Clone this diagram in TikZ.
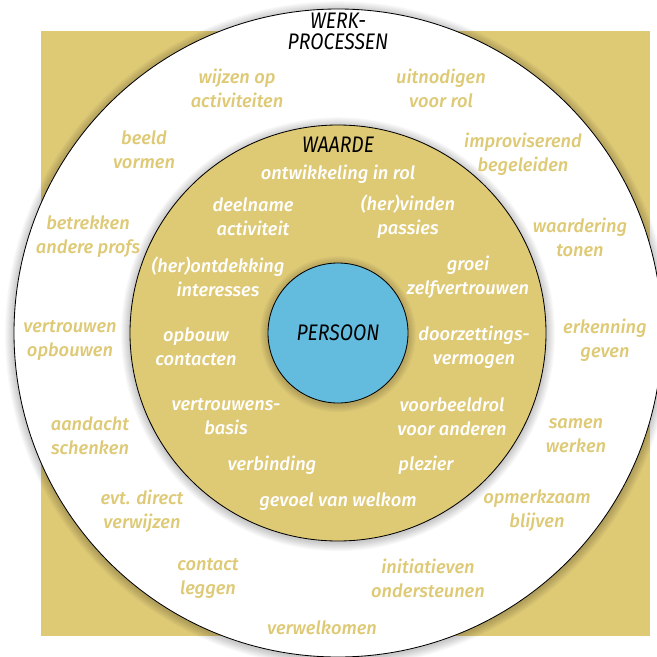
\documentclass[tikz,border=0pt]{standalone}
\usepackage{fontspec}
\setmainfont{Fira Sans}
\newfontfamily\labelfont{Fira Sans Medium}
\newfontfamily\kopfont[FakeStretch=0.86]{Fira Sans}
\definecolor{goud}{RGB}{222,201,117}
\definecolor{blauw}{RGB}{99,188,222}

\begin{document}
\begin{tikzpicture}[x=0.025cm, y=-0.025cm,
ring/.style={draw=black, line width=0.6pt},
schaduw/.style={fill=black, opacity=.022},
werk/.style={text=goud, align=center, inner sep=0, font=\fontsize{13}{17.1}\selectfont\labelfont\itshape},
waarde/.style={text=white, align=center, inner sep=0, font=\fontsize{13}{17.1}\selectfont\labelfont\itshape},
kop/.style={text=black, align=center, inner sep=0, font=\fontsize{16}{14.9}\selectfont\kopfont\itshape}]

% SIZE OF THE PICTURE
\useasboundingbox (0,0) rectangle (657,657);
\clip (0,0) rectangle (657,657);
\fill[white] (0,0) rectangle (657,657);
% BACKGROUND SQUARE
\fill[goud] (41,31) rectangle (650,636);
%%%%%%%%% CIRCLES %%%%%%%%%%%%%
\coordinate (M) at (338,333);
\foreach \d in {1,...,9} \fill[schaduw] ([yshift=-.03cm]M) circle[radius=324+\d];
\filldraw[ring, fill=white] (M) circle[radius=324];
\foreach \d in {1,...,9} \fill[schaduw] ([yshift=-.03cm]M) circle[radius=208+\d];
\filldraw[ring, fill=goud] (M) circle[radius=208];
\foreach \d in {1,...,8} \fill[schaduw] ([yshift=-.03cm]M) circle[radius=70+\d];
\filldraw[ring, fill=blauw] (M) circle[radius=70];
%%%%%%%%% OUTER RING %%%%%%%%%%%%%
\node[kop] (werkprocessen) at (338,31) {WERK-\\PROCESSEN};
\node[werk] (wijzen) at (237,88) {wijzen op\\activiteiten};
\node[werk] (uitnodigen) at (441,88) {uitnodigen\\voor rol};
\node[werk] (beeld) at (144,150) {beeld\\vormen};
\node[werk] (improviserend) at (523,154) {improviserend\\begeleiden};
\node[werk] (betrekken) at (88,237) {betrekken\\andere profs};
\node[werk] (waardering) at (580,237) {waardering\\tonen};
\node[werk] (vertrouwen) at (70,340) {vertrouwen\\opbouwen};
\node[werk] (erkenning) at (605,340) {erkenning\\geven};
\node[werk] (aandacht) at (90,436) {aandacht\\schenken};
\node[werk] (samen) at (576,436) {samen\\werken};
\node[werk] (verwijzen) at (142,511) {evt. direct\\verwijzen};
\node[werk] (opmerkzaam) at (537,511) {opmerkzaam\\blijven};
\node[werk] (contact) at (208,578) {contact\\leggen};
\node[werk] (initiatieven) at (428,578) {initiatieven\\ondersteunen};
\node[werk] (verwelkomen) at (322,628) {verwelkomen};
%%%%%%%%% INNER RING %%%%%%%%%%%%%
\node[kop] (waarde) at (338,145) {WAARDE};
\node[waarde] (ontwikkeling) at (338,174) {ontwikkeling in rol};
\node[waarde] (deelname) at (253,217) {deelname\\activiteit};
\node[waarde] (vinden) at (408,217) {(her)vinden\\passies};
\node[waarde] (ontdekking) at (218,277) {(her)ontdekking\\interesses};
\node[waarde] (groei) at (468,277) {groei\\zelfvertrouwen};
\node[waarde] (opbouw) at (196,347) {opbouw\\contacten};
\node[waarde] (doorzetting) at (474,347) {doorzettings-\\vermogen};
\node[waarde] (basis) at (226,417) {vertrouwens-\\basis};
\node[waarde] (voorbeeld) at (452,417) {voorbeeldrol\\voor anderen};
\node[waarde] (verbinding) at (272,465) {verbinding};
\node[waarde] (plezier) at (426,465) {plezier};
\node[waarde] (welkom) at (338,502) {gevoel van welkom};
% CENTRE
\node[kop] (persoon) at (M) {PERSOON};
\end{tikzpicture}
\end{document}
